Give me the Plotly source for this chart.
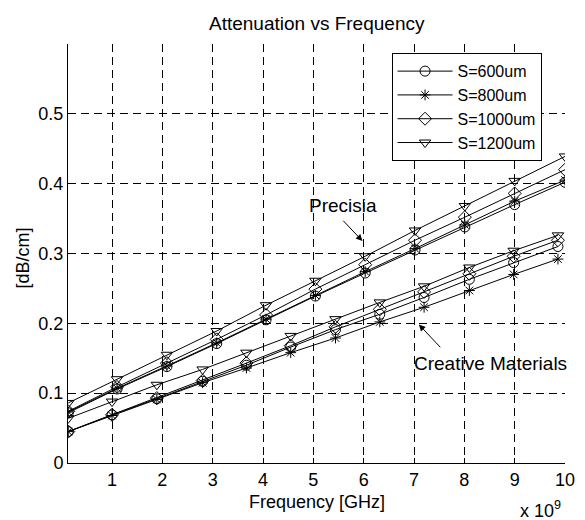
import plotly.graph_objects as go

# Frequencies in GHz (axis shows x 10^9 Hz)
freq_precisia = [0.13, 1.10, 2.09, 3.08, 4.06, 5.04, 6.03, 7.02, 8.01, 9.00, 10.0]
freq_creative = [0.13, 1.00, 1.89, 2.80, 3.67, 4.55, 5.44, 6.32, 7.20, 8.10, 8.98, 9.86]

series_names = ["S=600um", "S=800um", "S=1000um", "S=1200um"]

precisia_600 = [0.072, 0.106, 0.138, 0.171, 0.205, 0.239, 0.272, 0.305, 0.338, 0.370, 0.402]
precisia_800 = [0.073, 0.107, 0.139, 0.172, 0.206, 0.240, 0.274, 0.307, 0.341, 0.375, 0.405]
precisia_1000 = [0.074, 0.109, 0.143, 0.177, 0.212, 0.249, 0.284, 0.319, 0.352, 0.386, 0.420]
precisia_1200 = [0.086, 0.120, 0.155, 0.189, 0.226, 0.261, 0.296, 0.333, 0.368, 0.404, 0.439]

creative_600 = [0.045, 0.069, 0.092, 0.117, 0.140, 0.166, 0.191, 0.213, 0.237, 0.263, 0.287, 0.310]
creative_800 = [0.045, 0.068, 0.091, 0.115, 0.136, 0.158, 0.179, 0.202, 0.223, 0.247, 0.270, 0.292]
creative_1000 = [0.045, 0.069, 0.093, 0.118, 0.143, 0.168, 0.195, 0.220, 0.245, 0.271, 0.296, 0.319]
creative_1200 = [0.064, 0.088, 0.112, 0.134, 0.158, 0.182, 0.206, 0.230, 0.253, 0.280, 0.304, 0.326]

y_ticks = [0, 0.1, 0.2, 0.3, 0.4, 0.5]
y_tick_labels = ["0", "0.1", "0.2", "0.3", "0.4", "0.5"]
x_ticks = [1, 2, 3, 4, 5, 6, 7, 8, 9, 10]
x_tick_labels = [str(v) for v in x_ticks]

FONT = "Liberation Sans, Arial, Helvetica, sans-serif"

symbols = ["circle-open", "asterisk-open", "diamond-open", "triangle-down-open"]
sizes = [10, 9, 10, 10]
precisia_all = [precisia_600, precisia_800, precisia_1000, precisia_1200]
creative_all = [creative_600, creative_800, creative_1000, creative_1200]

fig = go.Figure()
for i, name in enumerate(series_names):
    mk = dict(symbol=symbols[i], size=sizes[i], color="black", line=dict(color="black", width=1))
    fig.add_trace(go.Scatter(x=freq_precisia, y=precisia_all[i], mode="lines+markers",
                             name=name, legendgroup=name, showlegend=True,
                             line=dict(color="black", width=1), marker=mk))
    fig.add_trace(go.Scatter(x=freq_creative, y=creative_all[i], mode="lines+markers",
                             name=name, legendgroup=name, showlegend=False,
                             line=dict(color="black", width=1), marker=mk))

# The page body has an 8px default margin, so the figure is sized to fit the 585x520 window.
fig.update_layout(
    width=577, height=512,
    margin=dict(l=60, r=10, t=36, b=57),
    paper_bgcolor="white", plot_bgcolor="white",
    font=dict(family=FONT, size=18, color="black"),
    showlegend=True,
    legend=dict(x=0.651, y=0.978, xanchor="left", yanchor="top",
                bgcolor="white", bordercolor="black", borderwidth=1,
                font=dict(family=FONT, size=16, color="black"),
                itemwidth=55, tracegroupgap=0),
    xaxis=dict(range=[0.125, 10], tickvals=x_ticks, ticktext=x_tick_labels,
               showgrid=True, gridcolor="black", gridwidth=1, griddash="8px,5px",
               showline=True, linecolor="black", linewidth=1,
               ticks="inside", ticklen=5, tickcolor="black",
               zeroline=False, tickfont=dict(size=18), ticklabeloverflow="allow"),
    yaxis=dict(range=[0, 0.6], tickvals=y_ticks, ticktext=y_tick_labels,
               showgrid=True, gridcolor="black", gridwidth=1, griddash="8px,5px",
               showline=True, linecolor="black", linewidth=1,
               ticks="inside", ticklen=5, tickcolor="black",
               zeroline=False, tickfont=dict(size=18), ticklabeloverflow="allow"),
)

annotations = [
    dict(text="Attenuation vs Frequency", xref="paper", yref="paper", x=0.5, y=1.048,
         xanchor="center", yanchor="middle", showarrow=False, font=dict(size=19)),
    dict(text="Frequency [GHz]", xref="paper", yref="paper", x=0.5, y=-0.092,
         xanchor="center", yanchor="middle", showarrow=False, font=dict(size=18)),
    dict(text="[dB/cm]", xref="paper", yref="paper", x=-0.091, y=0.49, textangle=-90,
         xanchor="center", yanchor="middle", showarrow=False, font=dict(size=18)),
    dict(text="x 10<sup>9</sup>", xref="paper", yref="paper", x=0.996, y=-0.143,
         xanchor="right", yanchor="bottom", showarrow=False, font=dict(size=18)),
    dict(text="Precisia", xref="x", yref="y", x=5.585, y=0.369,
         xanchor="center", yanchor="middle", showarrow=False, font=dict(size=19)),
    dict(text="Creative Materials", xref="x", yref="y", x=8.517, y=0.1425,
         xanchor="center", yanchor="middle", showarrow=False, font=dict(size=19)),
    dict(text="", xref="x", yref="y", x=5.975, y=0.318, axref="x", ayref="y",
         ax=5.566, ay=0.349, showarrow=True, arrowhead=2, arrowsize=1.3,
         arrowwidth=1, arrowcolor="black", standoff=0, startstandoff=0),
    dict(text="", xref="x", yref="y", x=7.097, y=0.1984, axref="x", ayref="y",
         ax=7.55, ay=0.1636, showarrow=True, arrowhead=2, arrowsize=1.3,
         arrowwidth=1, arrowcolor="black", standoff=0, startstandoff=0),
]
fig.update_layout(annotations=annotations)

fig.write_html("out.html")
